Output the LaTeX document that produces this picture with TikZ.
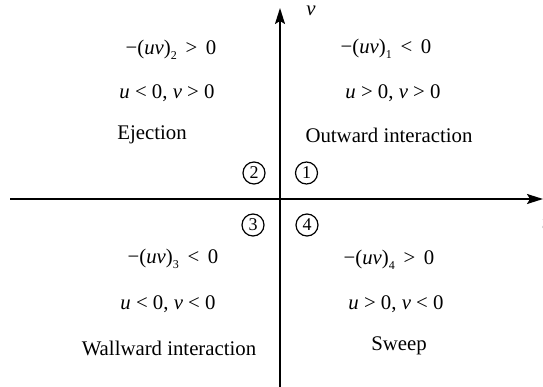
\documentclass[tikz,border=0pt]{standalone}
\usepackage{fontspec}
\setmainfont{Liberation Serif}
\usetikzlibrary{arrows.meta}
\newcommand{\qsub}[1]{\raisebox{-0.5ex}{\fontsize{12}{12}\selectfont #1}}
\newcommand{\qi}[1]{\textit{#1}}
\begin{document}
\begin{tikzpicture}[x=1pt,y=-1pt,
  lbl/.style={font=\fontsize{20.8}{24}\selectfont, inner sep=0pt, anchor=center},
  num/.style={circle, draw, line width=1.2pt, minimum size=22pt, inner sep=0pt, font=\fontsize{18}{18}\selectfont},
  axisline/.style={line width=1.7pt, -{Stealth[length=16pt,width=10pt,inset=3pt]}}]
\useasboundingbox (0,0) rectangle (543,387);
% axes
\coordinate (xl) at (10,199);
\coordinate (xr) at (543,199);
\coordinate (yb) at (280,387);
\coordinate (yt) at (280,8);
\draw[axisline] (xl) -- (xr);
\draw[axisline] (yb) -- (yt);
\node[lbl] (vlab) at (311,11) {\qi{v}};
\node[lbl] (ulab) at (547,225) {\qi{u}};
% quadrant 2
\node[lbl] (q2a) at (171,50) {−(\qi{uv})\qsub{2}\, > \,0};
\node[lbl] (q2b) at (167,93) {\qi{u} < 0, \qi{v} > 0};
\node[lbl] (q2c) at (152,135) {Ejection};
% quadrant 1
\node[lbl] (q1a) at (386,49) {−(\qi{uv})\qsub{1}\, < \,0};
\node[lbl] (q1b) at (393,93) {\qi{u} > 0, \qi{v} > 0};
\node[lbl] (q1c) at (389,135) {Outward interaction};
% quadrant 3
\node[lbl] (q3a) at (173,259) {−(\qi{uv})\qsub{3}\, < \,0};
\node[lbl] (q3b) at (168,304) {\qi{u} < 0, \qi{v} < 0};
\node[lbl] (q3c) at (169,348) {Wallward interaction};
% quadrant 4
\node[lbl] (q4a) at (389,260) {−(\qi{uv})\qsub{4}\, > \,0};
\node[lbl] (q4b) at (396,304) {\qi{u} > 0, \qi{v} < 0};
\node[lbl] (q4c) at (399,346) {Sweep};
% circled numbers
\node[num] (n2) at (254,173) {2};
\node[num] (n1) at (306.5,173) {1};
\node[num] (n3) at (253,225) {3};
\node[num] (n4) at (307,225) {4};
\end{tikzpicture}
\end{document}
